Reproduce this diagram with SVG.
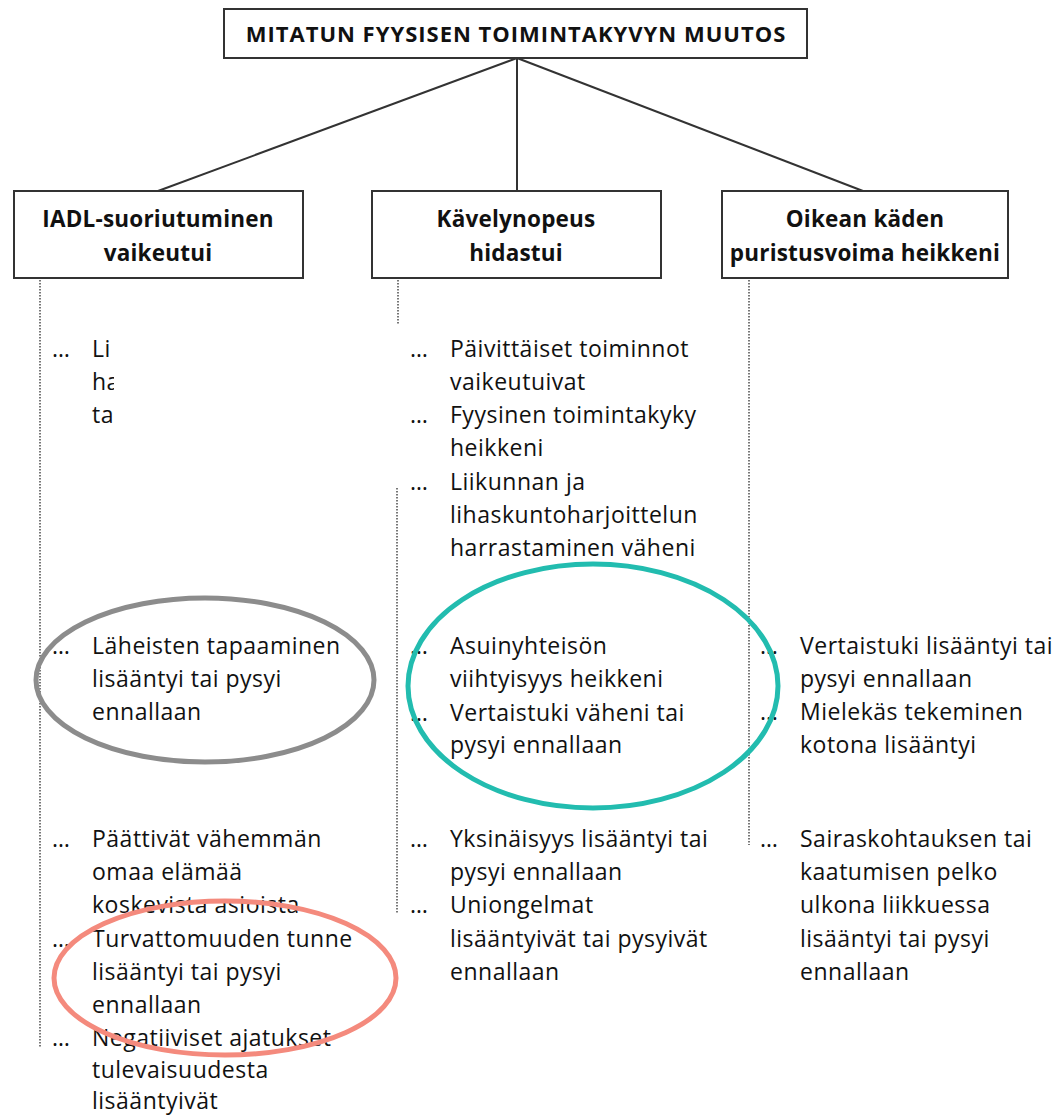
<svg xmlns="http://www.w3.org/2000/svg" width="1059" height="1116" viewBox="0 0 1059 1116">
  <style>
    .box { fill: #ffffff; stroke: #333333; stroke-width: 2; }
    .hd { font-family: "Open Sans", Lato, sans-serif; font-weight: bold; font-size: 22.5px; letter-spacing: 0.2px; fill: #111111; text-anchor: middle; }
    .tx { font-family: "Open Sans", Lato, sans-serif; font-size: 23px; letter-spacing: 0.5px; fill: #111111; }
    .conn { stroke: #333333; stroke-width: 2; fill: none; }
    .dot { stroke: #777777; stroke-width: 2; stroke-dasharray: 1.5 1.5; fill: none; }
    .ring { fill: none; stroke-width: 5; }
  </style>
  <defs>
    <clipPath id="cut"><rect x="0" y="320" width="114" height="120"/></clipPath>
  </defs>
  <rect width="1059" height="1116" fill="#ffffff"/>

  <g id="connectors">
    <line class="conn" x1="517" y1="58" x2="158" y2="191"/>
    <line class="conn" x1="517" y1="58" x2="517" y2="191"/>
    <line class="conn" x1="517" y1="58" x2="863" y2="191"/>
    <line class="dot" x1="40" y1="280" x2="40" y2="1047"/>
    <line class="dot" x1="398" y1="280" x2="398" y2="325"/>
    <line class="dot" x1="397" y1="488" x2="397" y2="913"/>
    <line class="dot" x1="749" y1="280" x2="749" y2="845"/>
  </g>

  <g id="root">
    <rect class="box" x="224" y="9" width="583" height="49"/>
    <text class="hd" x="516" y="42" style="font-size:22px;letter-spacing:1px">MITATUN FYYSISEN TOIMINTAKYVYN MUUTOS</text>
  </g>
  <g id="iadl">
    <rect class="box" x="14" y="191" width="289" height="87"/>
    <text class="hd" x="158" y="227">IADL-suoriutuminen</text>
    <text class="hd" x="158" y="261">vaikeutui</text>
  </g>
  <g id="kavely">
    <rect class="box" x="372" y="191" width="289" height="87"/>
    <text class="hd" x="516" y="227">Kävelynopeus</text>
    <text class="hd" x="516" y="261">hidastui</text>
  </g>
  <g id="oikea">
    <rect class="box" x="722" y="191" width="286" height="87"/>
    <text class="hd" x="865" y="227">Oikean käden</text>
    <text class="hd" x="865" y="261">puristusvoima heikkeni</text>
  </g>

  <g id="left-list" class="tx">
    <text x="52" y="357">…</text>
    <g clip-path="url(#cut)">
      <text x="92" y="357">Li</text>
      <text x="92" y="390">ha</text>
      <text x="92" y="423">ta</text>
    </g>
    <text x="52" y="654">…</text>
    <text x="92" y="654">Läheisten tapaaminen</text>
    <text x="92" y="687">lisääntyi tai pysyi</text>
    <text x="92" y="720">ennallaan</text>
    <text x="52" y="847">…</text>
    <text x="92" y="847">Päättivät vähemmän</text>
    <text x="92" y="880">omaa elämää</text>
    <text x="92" y="913">koskevista asioista</text>
    <text x="52" y="947">…</text>
    <text x="92" y="947">Turvattomuuden tunne</text>
    <text x="92" y="980">lisääntyi tai pysyi</text>
    <text x="92" y="1013">ennallaan</text>
    <text x="52" y="1046">…</text>
    <text x="92" y="1046">Negatiiviset ajatukset</text>
    <text x="92" y="1078">tulevaisuudesta</text>
    <text x="92" y="1109">lisääntyivät</text>
  </g>

  <g id="center-list" class="tx">
    <text x="410" y="357">…</text>
    <text x="450" y="357">Päivittäiset toiminnot</text>
    <text x="450" y="390">vaikeutuivat</text>
    <text x="410" y="423">…</text>
    <text x="450" y="423">Fyysinen toimintakyky</text>
    <text x="450" y="456">heikkeni</text>
    <text x="410" y="490">…</text>
    <text x="450" y="490">Liikunnan ja</text>
    <text x="450" y="523">lihaskuntoharjoittelun</text>
    <text x="450" y="556">harrastaminen väheni</text>
    <text x="410" y="654">…</text>
    <text x="450" y="654">Asuinyhteisön</text>
    <text x="450" y="687">viihtyisyys heikkeni</text>
    <text x="410" y="721">…</text>
    <text x="450" y="721">Vertaistuki väheni tai</text>
    <text x="450" y="753">pysyi ennallaan</text>
    <text x="410" y="847">…</text>
    <text x="450" y="847">Yksinäisyys lisääntyi tai</text>
    <text x="450" y="880">pysyi ennallaan</text>
    <text x="410" y="913">…</text>
    <text x="450" y="913">Uniongelmat</text>
    <text x="450" y="947">lisääntyivät tai pysyivät</text>
    <text x="450" y="980">ennallaan</text>
  </g>

  <g id="right-list" class="tx">
    <text x="760" y="654">…</text>
    <text x="800" y="654">Vertaistuki lisääntyi tai</text>
    <text x="800" y="687">pysyi ennallaan</text>
    <text x="760" y="720">…</text>
    <text x="800" y="720">Mielekäs tekeminen</text>
    <text x="800" y="753">kotona lisääntyi</text>
    <text x="760" y="847">…</text>
    <text x="800" y="847">Sairaskohtauksen tai</text>
    <text x="800" y="880">kaatumisen pelko</text>
    <text x="800" y="913">ulkona liikkuessa</text>
    <text x="800" y="947">lisääntyi tai pysyi</text>
    <text x="800" y="980">ennallaan</text>
  </g>

  <g id="highlights">
    <ellipse class="ring" cx="205" cy="680" rx="169" ry="82" stroke="#8c8c8c"/>
    <ellipse class="ring" cx="593" cy="686" rx="185" ry="122" stroke="#22bcaf"/>
    <ellipse class="ring" cx="225" cy="978" rx="171" ry="77" stroke="#f48a7d"/>
  </g>
</svg>
